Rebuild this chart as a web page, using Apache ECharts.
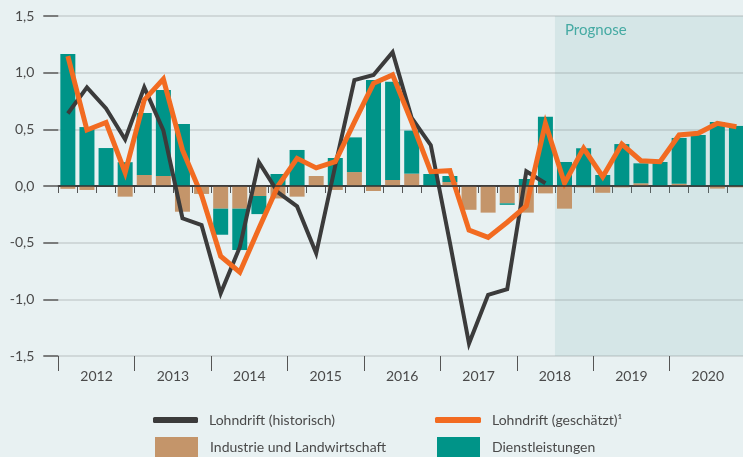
<!DOCTYPE html>
<html>
<head>
<meta charset="utf-8">
<script src="https://cdn.jsdelivr.net/npm/echarts@6/dist/echarts.min.js"></script>
<style>
  html, body { margin: 0; padding: 0; background: #e8f1f2; }
  #chart { width: 743px; height: 457px; }
</style>
</head>
<body>
<div id="chart"></div>
<script>
// Quartale 2012 Q1 .. 2020 Q4
var years = ['2012', '2013', '2014', '2015', '2016', '2017', '2018', '2019', '2020'];
var quarters = [];
years.forEach(function (y) {
  for (var q = 1; q <= 4; q++) quarters.push(y + ' Q' + q);
});

// Beiträge (Prozentpunkte)
var industrie = [
  -0.025, -0.035, 0, -0.094, 0.097, 0.088, -0.227, -0.07,
  -0.2, -0.2, -0.088, -0.11, -0.094, 0.088, -0.035, 0.123,
  -0.044, 0.053, 0.109, 0, 0.035, -0.21, -0.235, -0.153,
  -0.235, -0.065, -0.2, -0.012, -0.06, -0.012, 0.024, 0,
  0.02, 0, -0.023, -0.012
];
var dienst = [
  1.165, 0.52, 0.335, 0.21, 0.547, 0.759, 0.547, 0,
  -0.23, -0.365, -0.16, 0.106, 0.318, 0, 0.247, 0.306,
  0.935, 0.867, 0.38, 0.106, 0.053, 0, 0, -0.013,
  0.062, 0.61, 0.212, 0.333, 0.097, 0.37, 0.176, 0.212,
  0.404, 0.45, 0.565, 0.53
];
var historisch = [
  0.64, 0.87, 0.685, 0.41, 0.87, 0.49, -0.285, -0.345,
  -0.947, -0.54, 0.21, -0.056, -0.18, -0.594, 0.18, 0.935,
  0.98, 1.18, 0.6, 0.36, -0.5, -1.39, -0.96, -0.91,
  0.13, 0.024
];
var geschaetzt = [
  1.147, 0.494, 0.56, 0.118, 0.76, 0.944, 0.318, -0.08,
  -0.62, -0.76, -0.375, 0.0, 0.244, 0.16, 0.215, 0.563,
  0.906, 0.98, 0.565, 0.126, 0.135, -0.39, -0.453, -0.32,
  -0.176, 0.553, 0.024, 0.333, 0.082, 0.37, 0.223, 0.215,
  0.45, 0.465, 0.553, 0.523
];
var prognoseStart = quarters.indexOf('2018 Q3');

var font = 'Lato, "Noto Sans", sans-serif';
var textColor = '#4a4a4a';

var chart = echarts.init(document.getElementById('chart'), null, { renderer: 'canvas' });

function legendAt(name, left, top, w, h, icon, pad) {
  return {
    data: [name],
    left: left,
    top: top,
    padding: 0,
    icon: icon,
    itemWidth: w,
    itemHeight: h,
    selectedMode: false,
    textStyle: { color: textColor, fontFamily: font, fontSize: 14, padding: [0, 0, 0, pad] }
  };
}

var option = {
  backgroundColor: '#e8f1f2',
  animation: false,
  textStyle: { fontFamily: font },
  grid: { left: 58.3, right: -3, top: 16, bottom: 101, outerBoundsMode: 'none' },
  legend: [
    legendAt('Lohndrift (historisch)', 153, 413, 45, 6, 'roundRect', 6),
    legendAt('Lohndrift (geschätzt)¹', 435, 413, 46, 6, 'roundRect', 6),
    legendAt('Industrie und Landwirtschaft', 155, 437, 43, 21, 'rect', 7),
    legendAt('Dienstleistungen', 437, 437, 43, 21, 'rect', 7)
  ],
  xAxis: [
    {
      type: 'category',
      data: quarters,
      position: 'bottom',
      axisLine: { show: true, lineStyle: { color: '#3a3a3a', width: 1.5 } },
      axisTick: { show: true, interval: 0, length: 7, lineStyle: { color: '#555' } },
      axisLabel: { show: false },
      splitLine: { show: false }
    },
    {
      type: 'category',
      data: years,
      position: 'bottom',
      axisLine: { show: false },
      axisTick: { show: true, interval: 0, length: 15, lineStyle: { color: '#555' } },
      axisLabel: { color: textColor, fontSize: 14, margin: 13, interval: 0 },
      splitLine: { show: false }
    },
    {
      type: 'value',
      min: 0,
      max: quarters.length,
      show: false
    }
  ],
  yAxis: {
    type: 'value',
    min: -1.5,
    max: 1.5,
    interval: 0.5,
    axisLine: { show: true, lineStyle: { color: 'rgba(0,0,0,0)' } },
    axisTick: { show: true, length: 15, lineStyle: { color: '#555', width: 1.5 } },
    axisLabel: {
      color: textColor,
      fontSize: 14,
      margin: 24,
      formatter: function (v) { return v.toFixed(1).replace('.', ','); }
    },
    splitLine: { lineStyle: { color: '#c9cfd0', width: 1.5 } }
  },
  series: [
    {
      name: 'Prognose',
      type: 'line',
      xAxisIndex: 2,
      data: [[prognoseStart, 0]],
      showSymbol: false,
      silent: true,
      lineStyle: { width: 0 },
      markArea: {
        silent: true,
        itemStyle: { color: 'rgba(105,168,168,0.15)' },
        label: {
          show: true,
          position: 'insideTopLeft',
          formatter: 'Prognose',
          color: '#45aaa3',
          fontSize: 15,
          fontFamily: font,
          offset: [5, 2]
        },
        data: [[{ xAxis: prognoseStart }, { xAxis: quarters.length }]]
      }
    },
    {
      name: 'Industrie und Landwirtschaft',
      type: 'bar',
      stack: 'beitrag',
      barWidth: 15,
      itemStyle: { color: '#c4956a' },
      data: industrie
    },
    {
      name: 'Dienstleistungen',
      type: 'bar',
      stack: 'beitrag',
      barWidth: 15,
      itemStyle: { color: '#009488' },
      data: dienst,
      markLine: {
        silent: true,
        symbol: 'none',
        label: { show: false },
        lineStyle: { color: '#333', width: 1.5, type: 'solid' },
        data: [{ yAxis: 0 }]
      }
    },
    {
      name: 'Lohndrift (historisch)',
      type: 'line',
      data: historisch,
      showSymbol: false,
      itemStyle: { color: '#3b3b3b' },
      lineStyle: { color: '#3b3b3b', width: 4, join: 'miter' }
    },
    {
      name: 'Lohndrift (geschätzt)¹',
      type: 'line',
      data: geschaetzt,
      showSymbol: false,
      itemStyle: { color: '#f26b21' },
      lineStyle: { color: '#f26b21', width: 5, join: 'miter' }
    }
  ]
};

chart.setOption(option);
</script>
</body>
</html>
